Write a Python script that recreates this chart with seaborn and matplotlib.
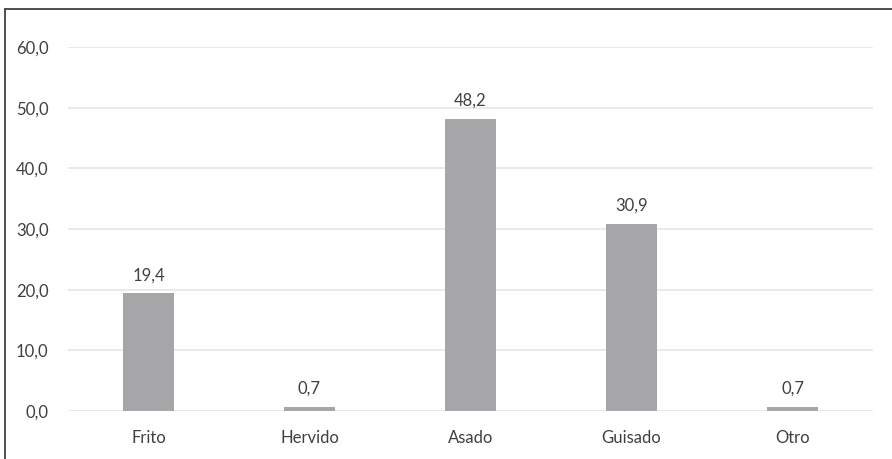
import matplotlib
matplotlib.use("Agg")
import matplotlib.pyplot as plt
from matplotlib.lines import Line2D
import seaborn as sns
import pandas as pd

categories = ["Frito", "Hervido", "Asado", "Guisado", "Otro"]
values = [19.4, 0.7, 48.2, 30.9, 0.7]
yticks = [0, 10, 20, 30, 40, 50, 60]

sns.set_theme(style="white")
plt.rcParams["font.family"] = ["Lato", "DejaVu Sans"]

df = pd.DataFrame({"metodo": categories, "pct": values})

fig = plt.figure(figsize=(8.92, 4.59), dpi=100)
ax = fig.add_axes([68 / 892, 1 - 411 / 459, (873 - 68) / 892, (411 - 47) / 459])

sns.barplot(data=df, x="metodo", y="pct", color="#A6A6A8", saturation=1,
            width=0.32, linewidth=0, ax=ax, zorder=3)

text_color = "#404040"
ax.set_ylim(0, 60)
ax.set_xlim(-0.5, len(categories) - 0.5)
ax.set_yticks(yticks)
ax.set_yticklabels([f"{t:.1f}".replace(".", ",") for t in yticks])
ax.yaxis.grid(True, color="#E6E6E6", linewidth=1.2, zorder=0)
ax.set_axisbelow(True)
ax.tick_params(axis="both", length=0, labelsize=12, colors=text_color)
ax.tick_params(axis="y", pad=14)
ax.tick_params(axis="x", pad=14)
ax.set_xlabel("")
ax.set_ylabel("")
for s in ax.spines.values():
    s.set_visible(False)

for p, v in zip(ax.patches, values):
    ax.annotate(f"{v:.1f}".replace(".", ","),
                (p.get_x() + p.get_width() / 2, p.get_height()),
                xytext=(0, 7), textcoords="offset points",
                ha="center", va="bottom", fontsize=12, color=text_color)

# chart frame (top and left edges)
fig.add_artist(Line2D([5 / 892, 5 / 892], [0, 1 - 9 / 459], transform=fig.transFigure,
                      color="#404040", linewidth=1.3))
fig.add_artist(Line2D([5 / 892, 1], [1 - 9 / 459, 1 - 9 / 459], transform=fig.transFigure,
                      color="#404040", linewidth=1.3))

fig.savefig("out.png", dpi=100, facecolor="white")
